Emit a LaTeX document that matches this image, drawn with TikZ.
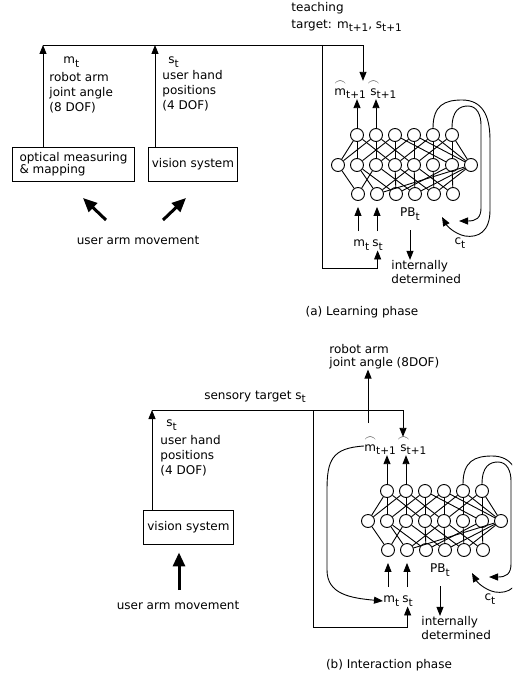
\documentclass[tikz,border=0pt]{standalone}
\usepackage{fontspec}
\usepackage{amsmath}
\setmainfont{DejaVu Sans}
\usetikzlibrary{arrows.meta}
\newcommand{\lo}[1]{\raisebox{-0.5ex}{\fontsize{10.5}{10.5}\selectfont #1}}
\newcommand{\arco}[1]{\leavevmode\setbox0\hbox{#1}%
    \rlap{\hbox to \wd0{\hss\raisebox{1.5ex}{$\frown$}\hss}}#1}

\begin{document}
\begin{tikzpicture}[
    x=1pt, y=-1pt, line width=0.9pt,
    font=\fontsize{12}{15}\selectfont,
    >={Triangle[length=9pt,width=7pt]},
    % Estilo dos neuronios da rede
    neuronio/.style={circle, draw, fill=white, minimum size=13pt, inner sep=0pt},
    % Estilo das caixas de sensores
    caixa/.style={draw, inner xsep=3pt, inner ysep=3pt, align=left, minimum height=34pt,
                  font=\fontsize{12}{12.5}\selectfont},
    rotulo/.style={inner sep=0pt, align=left},
    % Setas grossas do movimento do usuario
    setagrossa/.style={line width=3pt, -{Triangle[length=14pt,width=12pt]}}
]
    \useasboundingbox (0,0) rectangle (512,685);
    \clip (0,0) rectangle (512,685);

    % ==========================================
    % 1. AS DUAS REDES (a: aprendizado, b: interacao)
    % ==========================================
    \foreach \p/\dx/\dy in {a/0/0, b/30/356} {
    \begin{scope}[shift={(\dx,\dy)}]
        \foreach \i in {1,...,6} {
            \node[neuronio] (\p-t\i) at ({338+19*\i}, 135) {};
            \node[neuronio] (\p-b\i) at ({339+19*\i}, 194) {};
        }
        \foreach \j in {1,...,8}
            \node[neuronio] (\p-m\j) at ({319+19*\j}, 165) {};

        % Ligacoes entre as camadas
        \foreach \u/\v in {t1/m1, t1/m2, t1/m4, t2/m1, t2/m3, t2/m5, t3/m2, t3/m4, t3/m7,
                           t4/m3, t4/m5, t4/m8, t5/m4, t5/m6, t5/m8, t6/m5, t6/m7, t6/m8,
                           b1/m1, b1/m3, b2/m2, b2/m5, b2/m8, b3/m4, b3/m2, b3/m7,
                           b4/m5, b4/m3, b4/m8, b5/m6, b5/m4, b5/m8, b6/m7, b6/m5}
            \draw (\p-\u) -- (\p-\v);

        % Rotulos de saida e entrada
        \node[rotulo, anchor=west] (\p-mhat) at (334,90) {\arco{m}\lo{t+1}};
        \node[rotulo, anchor=west] (\p-shat) at (370,90) {\arco{s}\lo{t+1}};
        \node[rotulo, anchor=west] (\p-mt) at (353,245) {m\lo{t}};
        \node[rotulo, anchor=west] (\p-st) at (372,245) {s\lo{t}};
        \node[rotulo] (\p-pb) at (410,214) {PB\lo{t}};
        \node[rotulo, anchor=west, font=\fontsize{12}{14}\selectfont] (\p-int) at (391,272)
            {internally\\determined};
        \node[rotulo] (\p-ct) at (460,243) {c\lo{t}};

        \draw[->] (\p-t1.north) -- (\p-t1 |- \p-mhat.south);
        \draw[->] (\p-t2.north) -- (\p-t2 |- \p-shat.south);
        \draw[->, shorten >=6pt] (\p-b1 |- 0,231) -- (\p-b1.south);
        \draw[->, shorten >=6pt] (\p-b2 |- 0,231) -- (\p-b2.south);
        \draw[->] (\p-pb |- 0,230) -- (\p-pb |- \p-int.north);

        % Lacos de contexto c_t
        \coordinate (\p-ce) at (442,217);
        \coordinate (\p-ci) at (459,221);
        \draw[->] (\p-t5.north) .. controls (433,105) and (445,100) .. (462,100)
            .. controls (482,100) and (490,115) .. (490,140) -- (490,210)
            .. controls (490,232) and (478,238) .. (465,236)
            .. controls (455,234) and (447,226) .. (\p-ce);
        \draw[->] (\p-t6.north) .. controls (452,110) and (460,106) .. (468,106)
            .. controls (477,106) and (481,115) .. (481,125) -- (481,208)
            .. controls (481,218) and (476,221) .. (468,221) -- (\p-ci);
    \end{scope}
    }

    % ==========================================
    % 2. FASE DE APRENDIZADO (a)
    % ==========================================
    \node[caixa, anchor=west, minimum width=122pt] (optico) at (12,164) {optical measuring\\\& mapping};
    \node[caixa, anchor=west, minimum width=89pt] (visao-a) at (148,164.5) {vision system};

    \node[rotulo, anchor=west] (mt-esq) at (63,62) {m\lo{t}};
    \node[rotulo, anchor=north west] (robo) at (49,72) {robot arm\\joint angle\\(8 DOF)};
    \node[rotulo, anchor=west] (st-esq) at (168,62) {s\lo{t}};
    \node[rotulo, anchor=north west] (mao-a) at (162,70) {user hand\\positions\\(4 DOF)};
    \node[rotulo, anchor=north west, font=\fontsize{12}{17}\selectfont] (ensino) at (291,2)
        {teaching\\target: m\lo{t+1}, s\lo{t+1}};

    % Linha de realimentacao do alvo de ensino
    \coordinate (canto) at (43,45);
    \coordinate (juncao) at (155,45);
    \coordinate (garfo) at (322,45);
    \coordinate (desce) at (363,45);
    \coordinate (pe-a) at (322,268);
    \draw[->] (optico.north -| canto) -- (canto);
    \draw[->] (visao-a.north -| juncao) -- (juncao);
    \draw[->] (canto) -- (desce) -- (desce |- a-mhat.north);
    \draw[->] (garfo) -- (pe-a) -| (a-st.south);

    % Movimento do braco do usuario
    \node (mov-a) at (138,240) {user arm movement};
    \coordinate (ba1) at (106,220);
    \coordinate (pa1) at (83,198);
    \coordinate (ba2) at (163,220);
    \coordinate (pa2) at (186,198);
    \draw[setagrossa] (ba1) -- (pa1);
    \draw[setagrossa] (ba2) -- (pa2);

    \node (fase-a) at (362,312) {(a) Learning phase};

    % ==========================================
    % 3. FASE DE INTERACAO (b)
    % ==========================================
    \node[caixa, anchor=west, minimum width=90pt] (visao-b) at (143,527) {vision system};
    \node (sensor) at (255,397) {sensory target s\lo{t}};
    \node[rotulo, anchor=west] (st-b) at (166,425) {s\lo{t}};
    \node[rotulo, anchor=north west] (mao-b) at (160,435) {user hand\\positions\\(4 DOF)};
    \node[rotulo, anchor=north west, font=\fontsize{12}{13}\selectfont] (saida) at (329,344)
        {robot arm\\joint angle (8DOF)};

    \coordinate (canto-b) at (152,410);
    \coordinate (garfo-b) at (313,410);
    \coordinate (desce-b) at (403,410);
    \coordinate (pe-b) at (313,627);
    \coordinate (sobe-b) at (368,423);
    \draw[->] (visao-b.north -| canto-b) -- (canto-b);
    \draw[->] (canto-b) -- (desce-b) -- (desce-b |- b-shat.north);
    \draw[->] (garfo-b) -- (pe-b) -| (b-st.south);
    \draw[->] (sobe-b) -- (sobe-b |- saida.south);

    % Realimentacao da saida prevista para a entrada
    \draw[->] (b-mhat.west) .. controls (332,448) and (327,460) .. (327,490) -- (327,570)
        .. controls (327,594) and (350,598) .. (b-mt.west);

    \node (mov-b) at (178,605) {user arm movement};
    \coordinate (ba3) at (179,590);
    \draw[setagrossa, shorten >=8pt] (ba3) -- (ba3 |- visao-b.south);

    \node (fase-b) at (389,665) {(b) Interaction phase};

\end{tikzpicture}
\end{document}
